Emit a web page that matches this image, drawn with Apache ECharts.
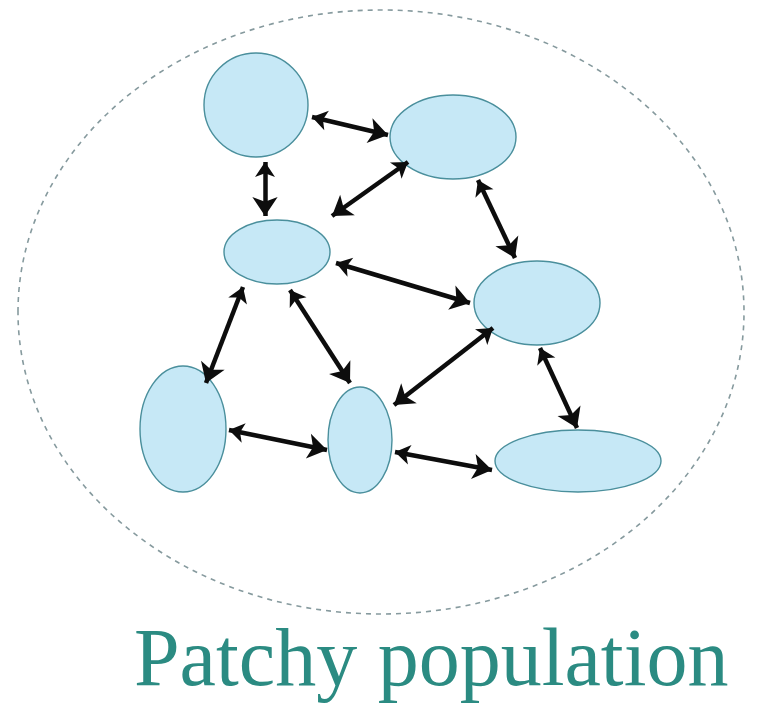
<!DOCTYPE html>
<html>
<head>
<meta charset="utf-8">
<script src="https://cdn.jsdelivr.net/npm/echarts@6/dist/echarts.min.js"></script>
<style>
html, body { margin: 0; padding: 0; background: #fff; }
#main { width: 759px; height: 708px; }
</style>
</head>
<body>
<div id="main"></div>
<script>
// patches: centre and half axes, in picture units
let patchX = [256, 453, 277, 537, 183, 360, 578];
let patchY = [105, 137, 252, 303, 429, 440, 461];
let patchRx = [52, 63, 53, 63, 43, 32, 83];
let patchRy = [52, 42, 32, 42, 63, 53, 31];

// the dashed outline round the whole population
let outline = [381, 312, 363, 302];

// migration arrows (both ways)
let linkFrom = [[312, 117], [265, 162], [408, 162], [478, 180], [336, 263], [243, 287], [290, 290], [493, 328], [540, 348], [229, 430], [395, 452]];
let linkTo = [[388, 135], [265, 216], [332, 216], [515, 258], [470, 303], [206, 383], [350, 383], [394, 405], [577, 428], [327, 450], [492, 470]];

let caption = 'Patchy population';

let myChart = echarts.init(document.getElementById('main'));

function ellipseItem(fill, stroke, width, dash) {
    return function (params, api) {
        let c = api.coord([api.value(0), api.value(1)]);
        let e = api.coord([api.value(0) + api.value(2), api.value(1) + api.value(3)]);
        return {
            type: 'ellipse',
            shape: { cx: c[0], cy: c[1], rx: Math.abs(e[0] - c[0]), ry: Math.abs(e[1] - c[1]) },
            style: { fill: fill, stroke: stroke, lineWidth: width, lineDash: dash }
        };
    };
}

let patches = patchX.map(function (x, i) {
    return [x, patchY[i], patchRx[i], patchRy[i]];
});
let links = linkFrom.map(function (p, i) {
    return { coords: [p, linkTo[i]] };
});

let option = {
    animation: false,
    title: {
        text: caption,
        left: 129,
        top: 617,
        textStyle: {
            fontFamily: 'Liberation Serif',
            fontSize: 82,
            fontWeight: 'normal',
            color: '#2b8b82'
        }
    },
    grid: { left: 0, right: 0, top: 0, bottom: 0 },
    xAxis: { type: 'value', min: 0, max: 759, show: false },
    yAxis: { type: 'value', min: 0, max: 708, inverse: true, show: false },
    series: [
        {
            type: 'custom',
            silent: true,
            renderItem: ellipseItem('none', '#869a9e', 1.6, [5, 5]),
            data: [outline],
            z: 1
        },
        {
            type: 'custom',
            silent: true,
            renderItem: ellipseItem('#c6e8f6', '#4a8f9c', 1.4, null),
            data: patches,
            z: 2
        },
        {
            type: 'lines',
            coordinateSystem: 'cartesian2d',
            silent: true,
            symbol: ['arrow', 'arrow'],
            symbolSize: [15, 19],
            lineStyle: { color: '#0d0d0d', width: 4.5, opacity: 1, curveness: 0 },
            data: links,
            z: 3
        }
    ]
};

myChart.setOption(option);
window.addEventListener('resize', function () {
    myChart.resize();
});
</script>
</body>
</html>
